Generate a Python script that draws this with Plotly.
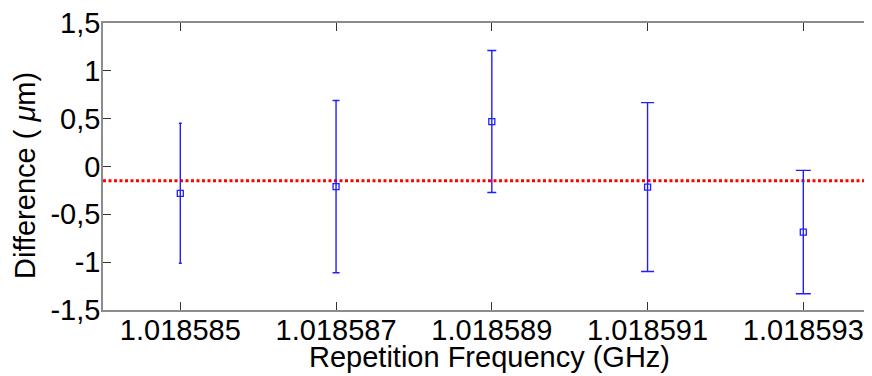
import plotly.graph_objects as go

# Data
freq_ghz = [1.018585, 1.018587, 1.018589, 1.018591, 1.018593]
difference_um = [-0.28, -0.21, 0.47, -0.215, -0.685]
error_um = [0.732, 0.90, 0.742, 0.883, 0.645]
mean_line_um = -0.15

x_tick_vals = [1.018585, 1.018587, 1.018589, 1.018591, 1.018593]
x_tick_text = ["1.018585", "1.018587", "1.018589", "1.018591", "1.018593"]
y_tick_vals = [-1.5, -1, -0.5, 0, 0.5, 1, 1.5]
y_tick_text = ["-1,5", "-1", "-0,5", "0", "0,5", "1", "1,5"]
x_title = "Repetition Frequency (GHz)"
y_title = "Difference ( <i>μ</i>m)"

# Styles
cap_widths = [1.5, 3.5, 4.5, 6.5, 7.5]
blue = "#1f1fff"
font_family = "Liberation Sans, Arial, sans-serif"
fsize = 29

fig = go.Figure()

x_range = [1.0185840074, 1.018593882]

fig.add_trace(go.Scatter(
    x=x_range, y=[mean_line_um, mean_line_um], mode="lines",
    line=dict(color="#ff0000", width=3, dash="3px,2.5px"),
    showlegend=False, hoverinfo="skip",
))

for xv, yv, ev, cw in zip(freq_ghz, difference_um, error_um, cap_widths):
    fig.add_trace(go.Scatter(
        x=[xv], y=[yv], mode="markers",
        marker=dict(symbol="square-open", size=6, color=blue, line=dict(width=1.3, color=blue)),
        error_y=dict(type="data", array=[ev], visible=True, color=blue, thickness=1.4, width=cw),
        showlegend=False,
    ))

fig.update_layout(
    width=864, height=368,
    margin=dict(l=95, r=0, t=15, b=66),
    paper_bgcolor="white", plot_bgcolor="white",
    font=dict(family=font_family, size=fsize, color="#000000"),
    xaxis=dict(
        range=x_range, tickmode="array", tickvals=x_tick_vals, ticktext=x_tick_text,
        ticks="inside", ticklen=8, tickcolor="#333333", tickwidth=1,
        showline=True, linecolor="#8c8c8c", linewidth=1.5, mirror="ticks",
        showgrid=False, zeroline=False, automargin=False,
        ticklabelstandoff=-7, ticklabeloverflow="allow",
        tickfont=dict(size=fsize),
    ),
    yaxis=dict(
        range=[-1.5, 1.5], tickmode="array", tickvals=y_tick_vals, ticktext=y_tick_text,
        ticks="inside", ticklen=8, tickcolor="#333333", tickwidth=1,
        showline=True, linecolor="#8c8c8c", linewidth=1.5, mirror=False,
        showgrid=False, zeroline=False, automargin=False,
        ticklabelstandoff=-5, ticklabeloverflow="allow",
        tickfont=dict(size=fsize),
    ),
    annotations=[
        dict(text=x_title, xref="paper", yref="paper", x=0.5, y=0, xanchor="center",
             yanchor="middle", xshift=2, yshift=-47, showarrow=False,
             font=dict(size=fsize, family=font_family, color="#000000")),
        dict(text=y_title, xref="paper", yref="paper", x=0, y=0.5, xanchor="center",
             yanchor="middle", xshift=-78, yshift=-9.5, textangle=-90, showarrow=False,
             font=dict(size=fsize, family=font_family, color="#000000")),
    ],
)

fig.write_html("out.html")
